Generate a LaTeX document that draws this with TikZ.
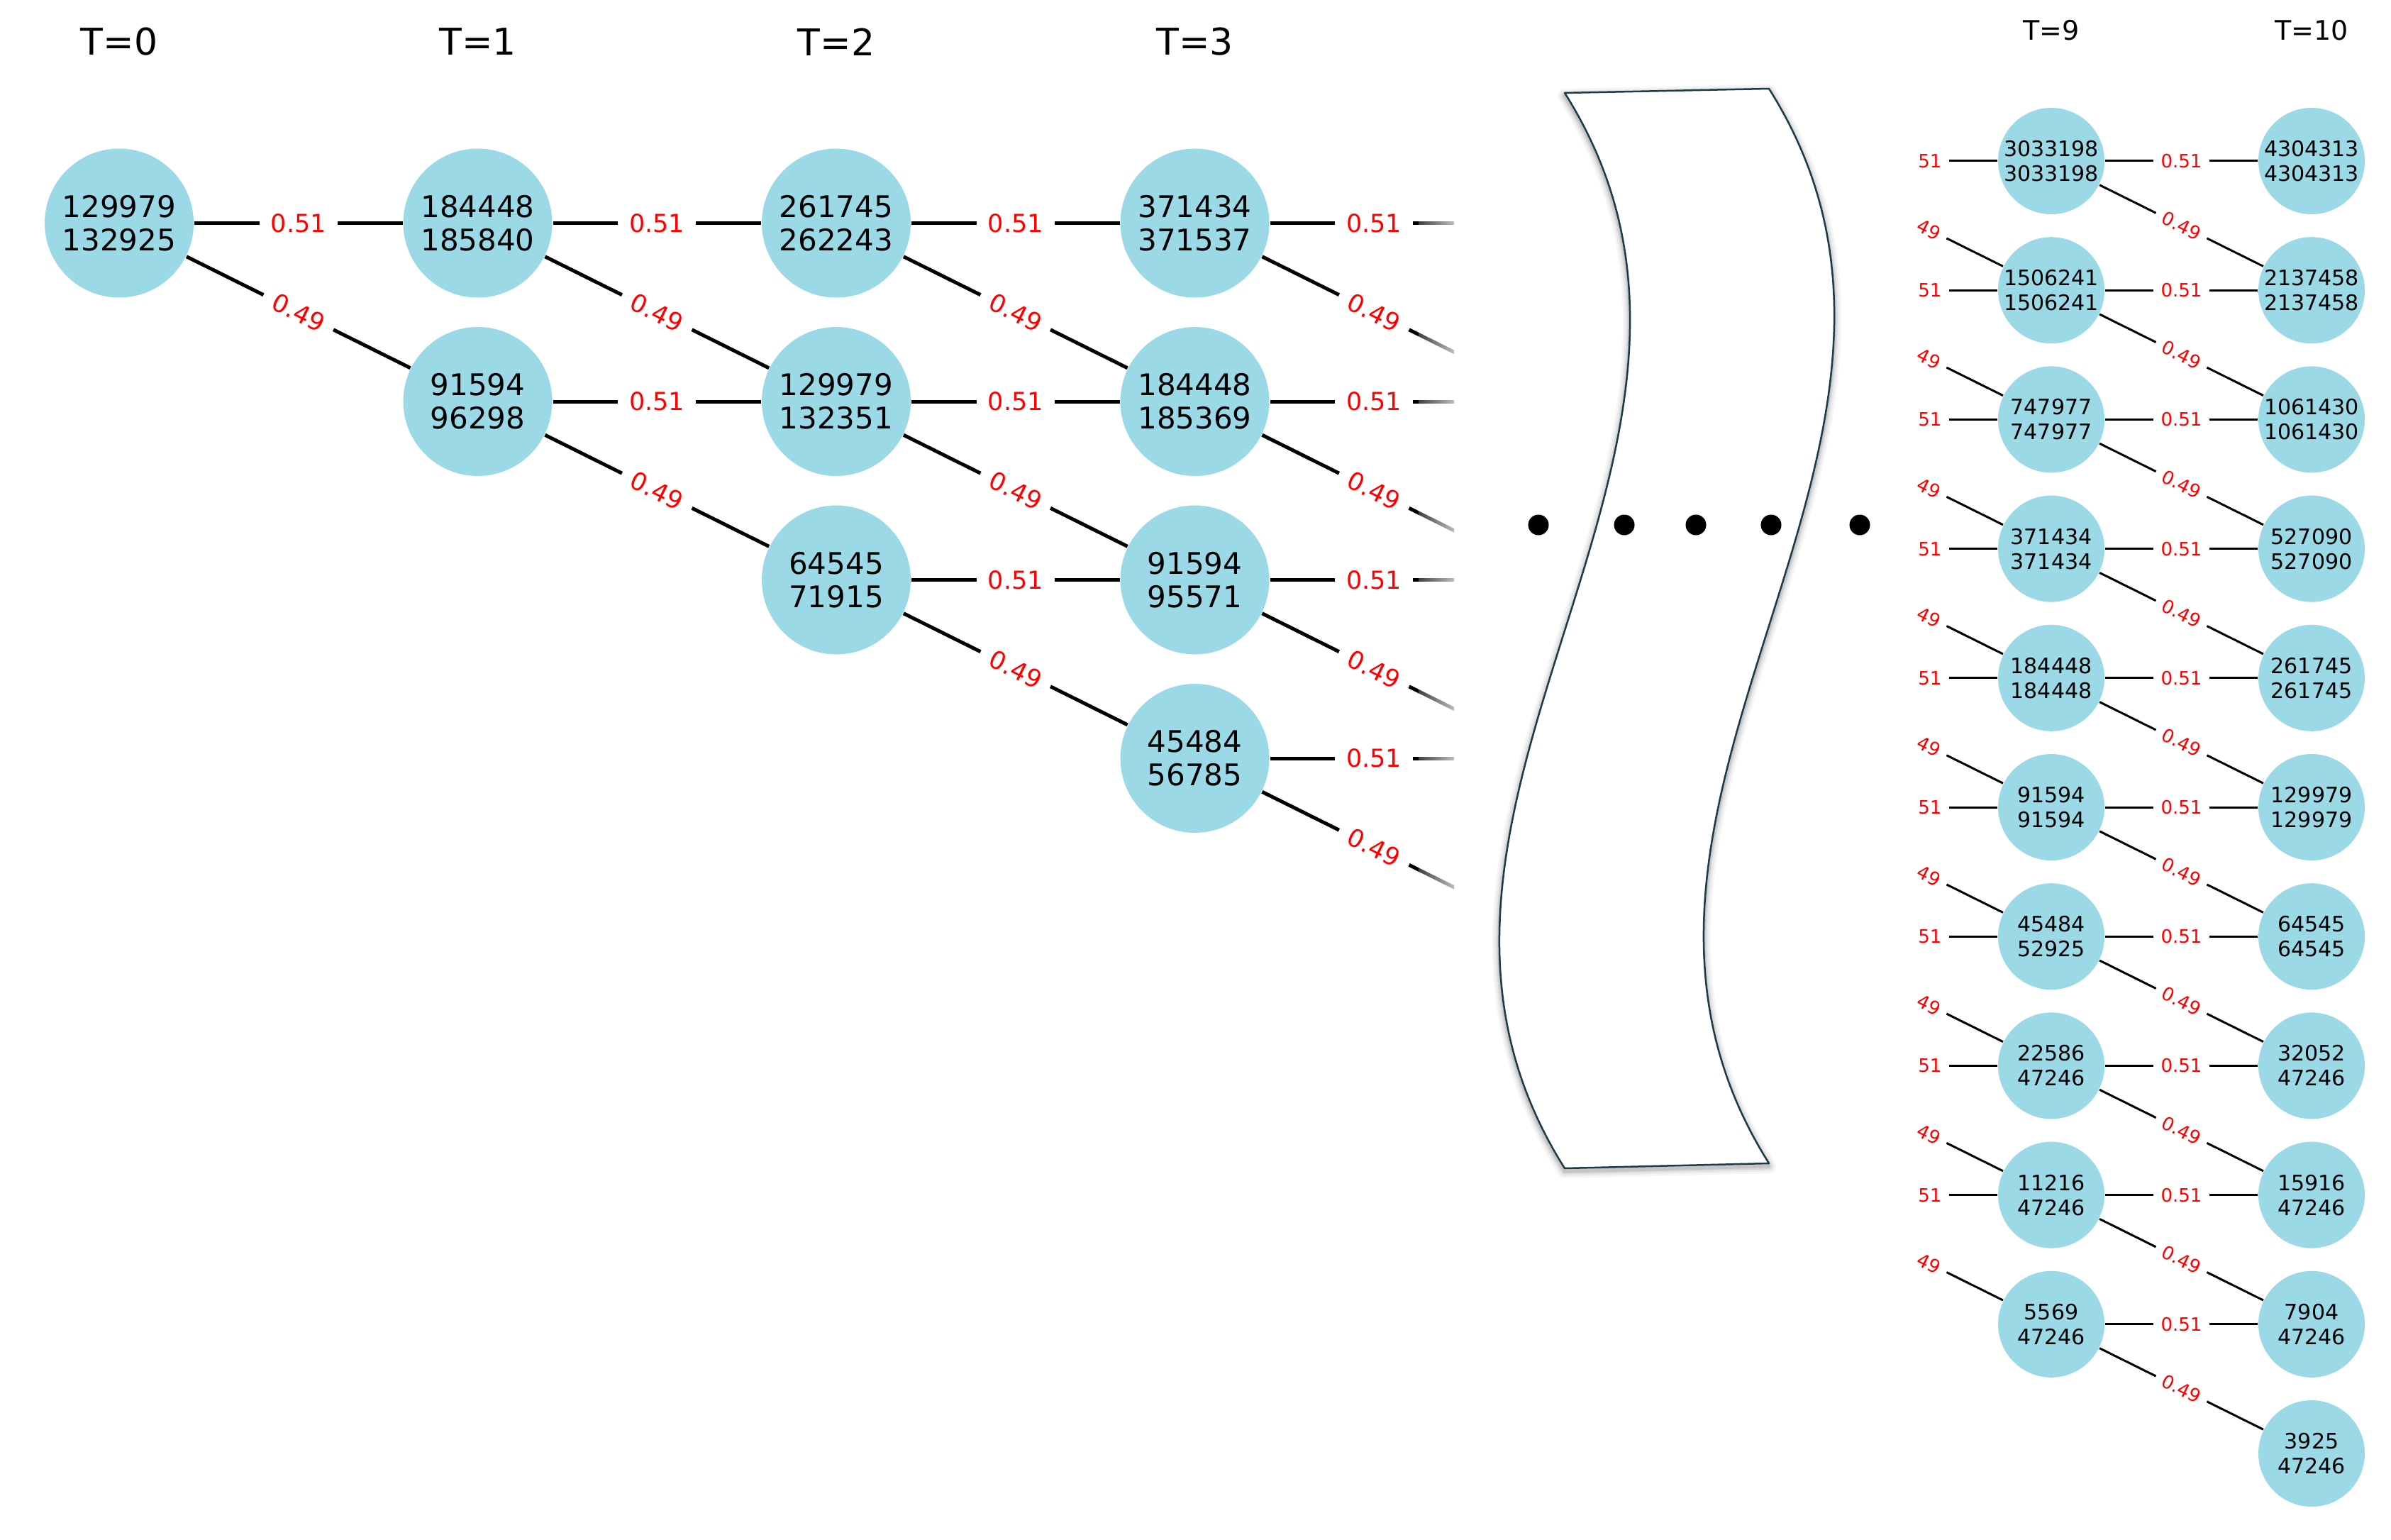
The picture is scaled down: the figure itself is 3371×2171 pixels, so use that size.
\documentclass[tikz,border=0pt]{standalone}
\usepackage{fontspec}
\setmainfont{DejaVu Sans}
\usetikzlibrary{fadings}
\definecolor{nodeblue}{RGB}{155,217,231}
\definecolor{waveline}{RGB}{28,58,72}
\pgfdeclarehorizontalshading{stubshade}{100bp}{color(0bp)=(black); color(100bp)=(white)}
\pgfdeclarefading{stubfade}{\pgfuseshading{stubshade}}
\begin{document}
\begin{tikzpicture}[x=0.2pt,y=-0.2pt,
  bignode/.style={circle,fill=nodeblue,minimum size=42pt,inner sep=0pt,align=center,font=\fontsize{8.4pt}{9.4pt}\selectfont},
  smallnode/.style={circle,fill=nodeblue,minimum size=30pt,inner sep=0pt,align=center,font=\fontsize{6pt}{7pt}\selectfont},
  ghostbig/.style={circle,minimum size=42pt,inner sep=0pt},
  ghostsmall/.style={circle,minimum size=30pt,inner sep=0pt},
  bigedge/.style={line width=1pt,black},
  smalledge/.style={line width=0.6pt,black},
  biglab/.style={fill=white,text=red,inner xsep=3.2pt,inner ysep=0.6pt,font=\fontsize{7pt}{8pt}\selectfont},
  smalllab/.style={fill=white,text=red,inner xsep=2.2pt,inner ysep=0.4pt,font=\fontsize{5.2pt}{6pt}\selectfont},
  tbig/.style={font=\fontsize{10.4pt}{12pt}\selectfont,inner sep=0pt},
  tsmall/.style={font=\fontsize{7.6pt}{9pt}\selectfont,inner sep=0pt},
  dotnode/.style={circle,fill=black,minimum size=5.8pt,inner sep=0pt},
]
\useasboundingbox (0,0) rectangle (3371,2171);

% time labels
\node[tbig] (t0) at (168,59) {T=0};
\node[tbig] (t1) at (673.5,59) {T=1};
\node[tbig] (t2) at (1179,59) {T=2};
\node[tbig] (t3) at (1684.5,59) {T=3};
\node[tsmall] (t9) at (2892,43) {T=9};
\node[tsmall] (t10) at (3259,43) {T=10};

% left tree nodes
\node[bignode] (n01) at (168,314.5) {129979\\132925};
\node[bignode] (n11) at (673.5,314.5) {184448\\185840};
\node[bignode] (n12) at (673.5,566) {91594\\96298};
\node[bignode] (n21) at (1179,314.5) {261745\\262243};
\node[bignode] (n22) at (1179,566) {129979\\132351};
\node[bignode] (n23) at (1179,817.5) {64545\\71915};
\node[bignode] (n31) at (1684.5,314.5) {371434\\371537};
\node[bignode] (n32) at (1684.5,566) {184448\\185369};
\node[bignode] (n33) at (1684.5,817.5) {91594\\95571};
\node[bignode] (n34) at (1684.5,1069) {45484\\56785};
% invisible targets of the cut edges
\node[ghostbig] (g41) at (2190,314.5) {};
\node[ghostbig] (g42) at (2190,566) {};
\node[ghostbig] (g43) at (2190,817.5) {};
\node[ghostbig] (g44) at (2190,1069) {};
\node[ghostbig] (g45) at (2190,1320.5) {};

\foreach \a/\b in {n01/n11,n11/n21,n12/n22,n21/n31,n22/n32,n23/n33}
  \draw[bigedge] (\a) -- node[biglab]{0.51} (\b);
\foreach \a/\b in {n01/n12,n11/n22,n12/n23,n21/n32,n22/n33,n23/n34}
  \draw[bigedge] (\a) -- node[biglab,sloped]{0.49} (\b);

\begin{scope}
  \clip (0,0) rectangle (2050,2171);
  \foreach \a/\b in {n31/g41,n32/g42,n33/g43,n34/g44}
    \draw[bigedge] (\a) -- node[biglab]{0.51} (\b);
  \foreach \a/\b in {n31/g42,n32/g43,n33/g44,n34/g45}
    \draw[bigedge] (\a) -- node[biglab,sloped]{0.49} (\b);
\end{scope}
\fill[white,path fading=stubfade] (2000,250) rectangle (2051,1450);

% right part nodes
\foreach \k/\a/\b in {1/3033198/3033198,2/1506241/1506241,3/747977/747977,4/371434/371434,5/184448/184448,6/91594/91594,7/45484/52925,8/22586/47246,9/11216/47246,10/5569/47246}
  \node[smallnode] (p\k) at (2892,{227+182.2*(\k-1)}) {\a\\\b};
\foreach \k/\a/\b in {1/4304313/4304313,2/2137458/2137458,3/1061430/1061430,4/527090/527090,5/261745/261745,6/129979/129979,7/64545/64545,8/32052/47246,9/15916/47246,10/7904/47246,11/3925/47246}
  \node[smallnode] (q\k) at (3259,{227+182.2*(\k-1)}) {\a\\\b};
\foreach \k in {1,...,9}
  \node[ghostsmall] (h\k) at (2525,{227+182.2*(\k-1)}) {};

\begin{scope}
  \clip (2702,0) rectangle (3371,2171);
  \foreach \k in {1,...,9}{
    \pgfmathtruncatemacro{\kk}{\k+1}
    \draw[smalledge] (h\k) -- node[smalllab]{0.51} (p\k);
    \draw[smalledge] (h\k) -- node[smalllab,sloped]{0.49} (p\kk);
  }
\end{scope}
\foreach \k in {1,...,10}{
  \pgfmathtruncatemacro{\kk}{\k+1}
  \draw[smalledge] (p\k) -- node[smalllab]{0.51} (q\k);
  \draw[smalledge] (p\k) -- node[smalllab,sloped]{0.49} (q\kk);
}

% wavy break band with soft shadow
\foreach \w/\o in {20/0.04,14/0.05,9/0.07,5/0.09}{
  \draw[line width=\w*0.2pt,black,opacity=\o,line join=round,yshift=-0.8pt]
    (2206,131) .. controls (2525,636) and (1887,1142) .. (2206,1647)
    -- (2494,1640) .. controls (2175,1134) and (2813,630) .. (2494,125) -- cycle;
}
\draw[waveline,line width=0.5pt,fill=white,line join=round]
  (2206,131) .. controls (2525,636) and (1887,1142) .. (2206,1647)
  -- (2494,1640) .. controls (2175,1134) and (2813,630) .. (2494,125) -- cycle;

% ellipsis dots
\node[dotnode] (d1) at (2169,740) {};
\node[dotnode] (d2) at (2290,740) {};
\node[dotnode] (d3) at (2391,740) {};
\node[dotnode] (d4) at (2497,740) {};
\node[dotnode] (d5) at (2622,740) {};
\end{tikzpicture}
\end{document}
